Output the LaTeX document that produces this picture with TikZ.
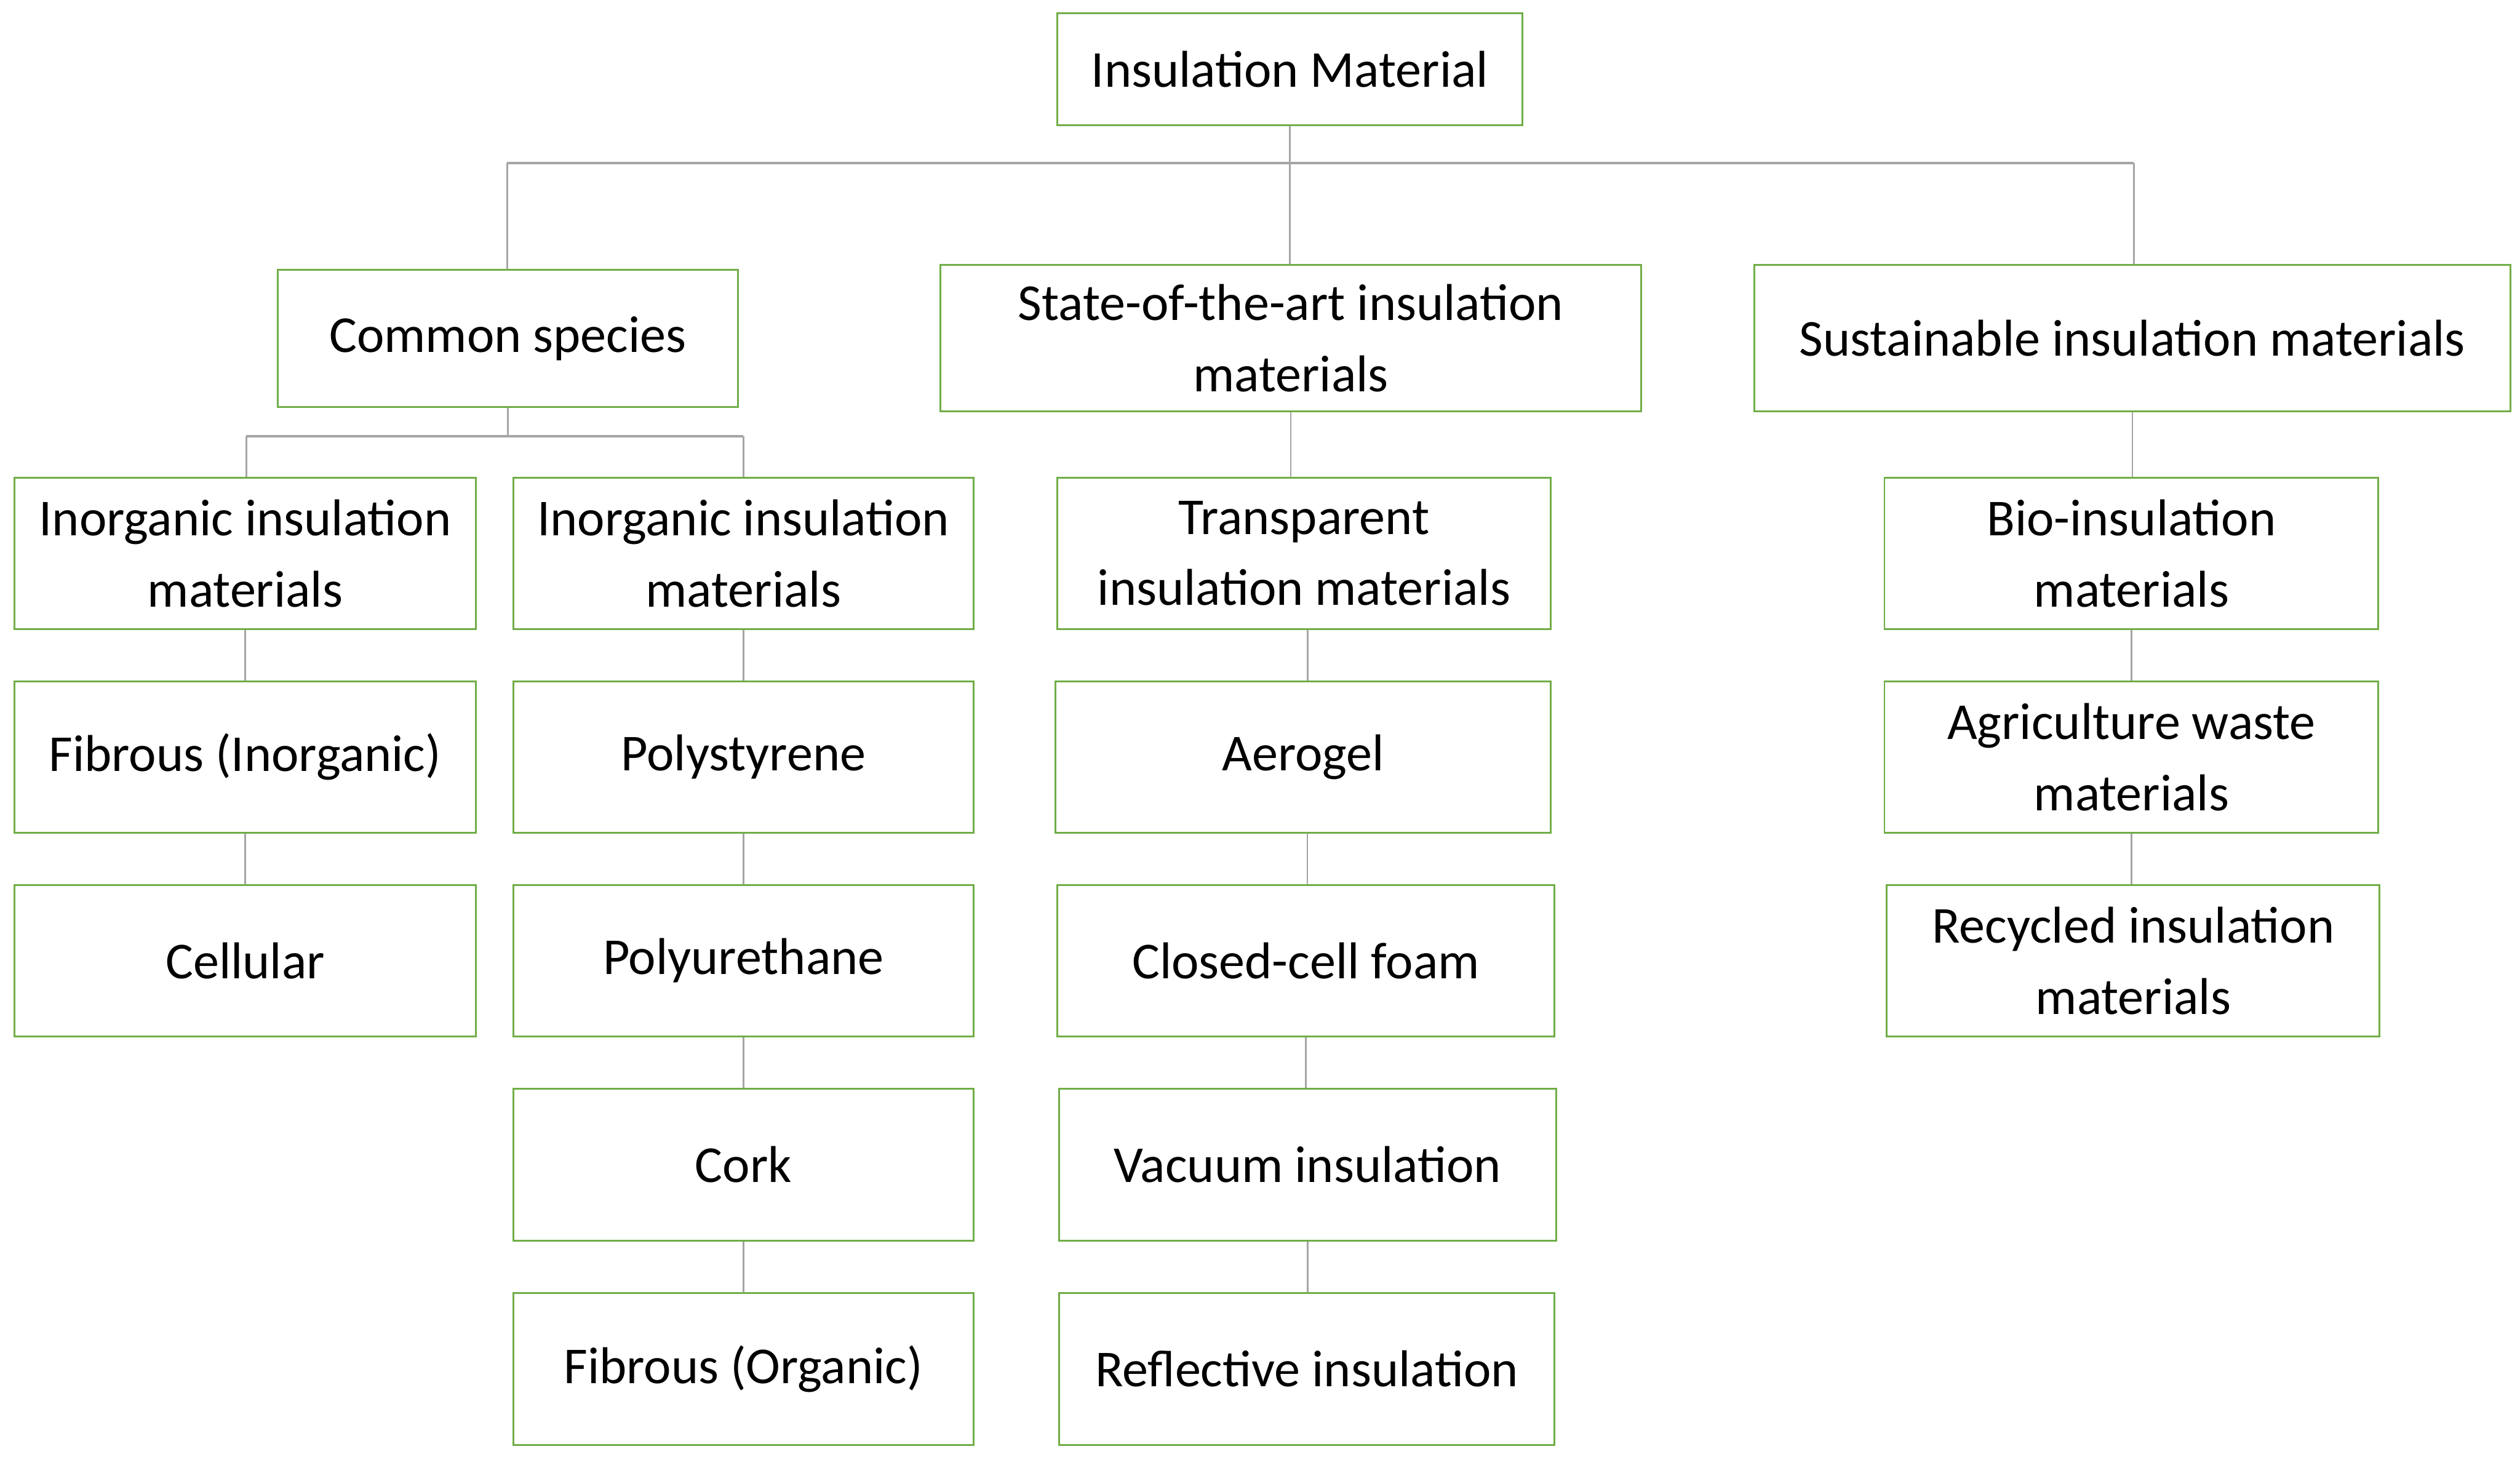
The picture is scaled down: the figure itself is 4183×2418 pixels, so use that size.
\documentclass[tikz,border=0pt]{standalone}
\usepackage{fontspec}
\setmainfont{Carlito}
\definecolor{boxgreen}{HTML}{70AD47}
\definecolor{linegray}{HTML}{A5A5A5}
\tikzset{
  box/.style={draw=boxgreen, line width=3pt, fill=white, rectangle, align=center, inner sep=0pt,
    font=\fontsize{86}{118}\selectfont, text=black},
  conn/.style={draw=linegray, line width=2.5pt},
  bar/.style={draw=linegray, line width=4pt},
}
\newcommand{\bx}[7]{% name, x1, x2, y1, y2, text
  \node[box, minimum width={(#3-#2)*1pt}, minimum height={(#5-#4)*1pt}] (#1) at ({(#2+#3)/2},{-(#4+#5)/2}) {#6};}
\begin{document}
\begin{tikzpicture}[x=1pt,y=1pt]
\useasboundingbox[fill=white] (0,0) rectangle (4183,-2418);
% top
\bx{top}{1755}{2527}{22}{208}{Insulation Material}{}
% level 1
\bx{common}{461}{1225}{448}{676}{Common species}{}
\bx{state}{1561}{2724}{440}{683}{State-of-the-art insulation\\materials}{}
\bx{sust}{2912}{4167}{440}{683}{Sustainable insulation materials}{}
% level 2
\bx{inorgA}{24}{790}{793}{1044}{Inorganic insulation\\materials}{}
\bx{inorgB}{852}{1616}{793}{1044}{Inorganic insulation\\materials}{}
\bx{trans}{1755}{2574}{793}{1044}{Transparent\\insulation materials}{}
\bx{bio}{3128}{3948}{793}{1044}{Bio-insulation\\materials}{}
% level 3
\bx{fibinorg}{24}{790}{1131}{1382}{Fibrous (Inorganic)}{}
\bx{polyst}{852}{1616}{1131}{1382}{Polystyrene}{}
\bx{aerogel}{1752}{2574}{1131}{1382}{Aerogel}{}
\bx{agri}{3128}{3948}{1131}{1382}{Agriculture waste\\materials}{}
% level 4
\bx{cellular}{24}{790}{1469}{1720}{Cellular}{}
\bx{polyur}{852}{1616}{1469}{1720}{Polyurethane}{}
\bx{closed}{1755}{2580}{1469}{1720}{Closed-cell foam}{}
\bx{recycled}{3132}{3950}{1469}{1720}{Recycled insulation\\materials}{}
% level 5
\bx{cork}{852}{1616}{1807}{2059}{Cork}{}
\bx{vacuum}{1758}{2583}{1807}{2059}{Vacuum insulation}{}
% level 6
\bx{fiborg}{852}{1616}{2146}{2398}{Fibrous (Organic)}{}
\bx{reflect}{1758}{2580}{2146}{2398}{Reflective insulation}{}
% connectors
\coordinate (barL) at (842,-271);
\coordinate (barR) at (3542,-271);
\coordinate (cbL) at (409,-724);
\coordinate (cbR) at (1234,-724);
\draw[conn] (top.south) -- (top.south |- state.north);
\draw[bar] (barL) -- (barR);
\draw[conn] (barL) -- (barL |- common.north);
\draw[conn] (barR) -- (barR |- sust.north);
\draw[conn] (common.south) -- (common.south |- cbL);
\draw[bar, line width=3.5pt] (cbL) -- (cbR);
\draw[conn] (cbL) -- (cbL |- inorgA.north);
\draw[conn] (cbR) -- (cbR |- inorgB.north);
\draw[conn] (state.south) -- (state.south |- trans.north);
\draw[conn] (sust.south) -- (sust.south |- bio.north);
\draw[conn] (inorgA.south) -- (inorgA.south |- fibinorg.north);
\draw[conn] (fibinorg.south) -- (fibinorg.south |- cellular.north);
\draw[conn] (inorgB.south) -- (inorgB.south |- polyst.north);
\draw[conn] (polyst.south) -- (polyst.south |- polyur.north);
\draw[conn] (polyur.south) -- (polyur.south |- cork.north);
\draw[conn] (cork.south) -- (cork.south |- fiborg.north);
\draw[conn] ([xshift=6pt]trans.south) -- ([xshift=6pt]trans.south |- aerogel.north);
\draw[conn] ([xshift=7pt]aerogel.south) -- ([xshift=7pt]aerogel.south |- closed.north);
\draw[conn] (closed.south) -- (closed.south |- vacuum.north);
\draw[conn] (vacuum.south) -- (vacuum.south |- reflect.north);
\draw[conn] (bio.south) -- (bio.south |- agri.north);
\draw[conn] (agri.south) -- (agri.south |- recycled.north);
\end{tikzpicture}
\end{document}
